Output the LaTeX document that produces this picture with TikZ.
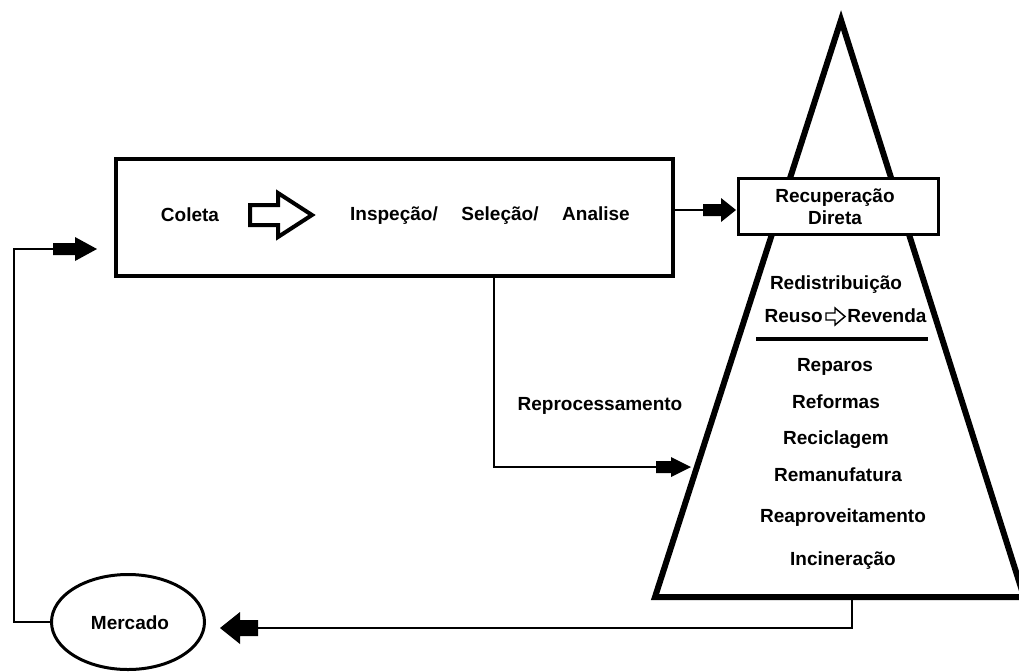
\documentclass[tikz,border=0pt]{standalone}
\usepackage{fontspec}
\setmainfont{Liberation Sans}
\usetikzlibrary{shapes.geometric}
% fat (filled block) arrow: tip, head length (signed), head half-height, shaft length (signed), shaft half-height
\newcommand\FatArrow[5]{\fill (#1) -- ++({-1*(#2)},{-(#3)}) -- ++(0,{(#3)-(#5)}) -- ++({-1*(#4)},0) -- ++(0,{2*(#5)}) -- ++({#4},0) -- ++(0,{(#3)-(#5)}) -- cycle;}
\begin{document}
\begin{tikzpicture}[x=0.75pt,y=-0.75pt,
  lbl/.style={font=\bfseries\fontsize{14.25}{17}\selectfont, inner sep=0pt, anchor=base},
  conn/.style={line width=1.1pt},
  pyr/.style={line width=4.5pt, line join=miter, miter limit=12}]
\useasboundingbox (0,0) rectangle (1019,671);

% pyramid
\begin{scope}
\clip (0,0) rectangle (1019,671);
\draw[pyr] (841,20) -- (655,597) -- (1024,597) -- cycle;
\end{scope}

% main box
\node[draw, line width=3pt, minimum width=417.75pt, minimum height=87.75pt, inner sep=0pt] (main) at (394.5,217.5) {};
% recuperacao direta box
\node[draw, fill=white, line width=2.25pt, minimum width=150pt, minimum height=42pt, inner sep=0pt] (rd) at (838.5,206.5) {};
\node[lbl] (rd1) at (835,202) {Recuperação};
\node[lbl] (rd2) at (835,224) {Direta};

% mercado
\node[draw, ellipse, line width=2.25pt, minimum width=114.75pt, minimum height=71.25pt, inner sep=0pt] (merc) at (128,622) {};
\node[lbl] (merct) at (130,629.5) {Mercado};

% texts in main box
\node[lbl] (coleta) at (190,221.5) {Coleta};
\node[lbl] (insp) at (394,220.5) {Inspeção/};
\node[lbl] (sel) at (500,220.5) {Seleção/};
\node[lbl] (anal) at (596,220.5) {Analise};
% hollow arrow
\draw[line width=3pt, line join=miter] (250,205) -- (278,205) -- (278,193) -- (312,215) -- (278,237) -- (278,225) -- (250,225) -- cycle;

% pyramid texts
\node[lbl] (redis) at (836,289.5) {Redistribuição};
\node[lbl, anchor=base east] (reuso) at (823,322.5) {Reuso};
\node[lbl, anchor=base west] (reven) at (847,322.5) {Revenda};
\draw[line width=1.1pt, line join=miter] (826,313) -- (835,313) -- (835,308) -- (845,316.5) -- (835,325) -- (835,320) -- (826,320) -- cycle;
\coordinate (sepL) at (756,339);
\coordinate (sepR) at (928,339);
\draw[line width=3pt] (sepL) -- (sepR);
\node[lbl] (rep) at (835,371.5) {Reparos};
\node[lbl] (ref) at (836,408.5) {Reformas};
\node[lbl] (rec) at (836,444.5) {Reciclagem};
\node[lbl] (reman) at (838,481.5) {Remanufatura};
\node[lbl] (reap) at (843,522.5) {Reaproveitamento};
\node[lbl] (inc) at (843,565.5) {Incineração};
\node[lbl] (repro) at (600,410.5) {Reprocessamento};

% connector: mercado -> main box
\coordinate (loopc) at (14,400);
\coordinate (tailA) at (53,249);
\coordinate (tipA) at (97,249);
\draw[conn] (merc.west) -| (loopc) |- (tailA);
\FatArrow{tipA}{22}{12}{22}{6}

% connector: main box -> recuperacao direta
\coordinate (tailB) at (703,210);
\coordinate (tipB) at (736,210);
\draw[conn] (main.east |- tailB) -- (tailB);
\FatArrow{tipB}{15}{12}{18}{6}

% connector: main box -> pyramid (reprocessamento)
\coordinate (rx) at (494,0);
\coordinate (tailC) at (656,467);
\coordinate (tipC) at (691,467);
\draw[conn] (main.south -| rx) |- (tailC);
\FatArrow{tipC}{20}{10}{15}{6}

% connector: pyramid -> mercado
\coordinate (baseOut) at (852,599);
\coordinate (tailD) at (258,628);
\coordinate (tipD) at (220,628);
\draw[conn] (baseOut) |- (tailD);
\FatArrow{tipD}{-20}{16}{-18}{8}
\end{tikzpicture}
\end{document}
